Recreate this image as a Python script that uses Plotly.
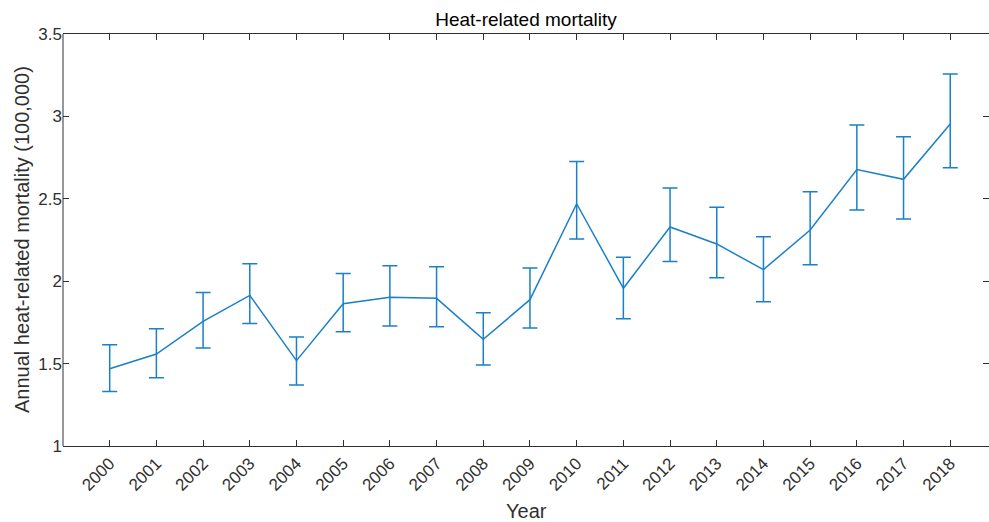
import plotly.graph_objects as go

# values (units of 100,000 deaths)
years = [2000, 2001, 2002, 2003, 2004, 2005, 2006, 2007, 2008, 2009,
         2010, 2011, 2012, 2013, 2014, 2015, 2016, 2017, 2018]
mortality = [1.469, 1.558, 1.756, 1.914, 1.518, 1.863, 1.902, 1.896, 1.647, 1.888,
             2.470, 1.957, 2.329, 2.226, 2.070, 2.311, 2.678, 2.618, 2.954]
upper = [1.615, 1.712, 1.932, 2.106, 1.661, 2.047, 2.094, 2.088, 1.809, 2.080,
         2.727, 2.146, 2.566, 2.448, 2.270, 2.543, 2.948, 2.877, 3.257]
lower = [1.331, 1.414, 1.595, 1.744, 1.370, 1.694, 1.728, 1.724, 1.492, 1.716,
         2.256, 1.772, 2.120, 2.021, 1.876, 2.100, 2.432, 2.377, 2.689]
y_ticks = [1, 1.5, 2, 2.5, 3, 3.5]
y_ticklabels = ['1', '1.5', '2', '2.5', '3', '3.5']

line_color = '#1a80c8'
axis_color = '#303030'
font_family = 'Liberation Sans, Arial, sans-serif'

W, H = 989, 522
m_l, m_r, m_t, m_b = 63, 0, 34, 76
plot_w = W - m_l - m_r
plot_h = H - m_t - m_b

err_plus = [u - m for u, m in zip(upper, mortality)]
err_minus = [m - l for m, l in zip(mortality, lower)]

fig = go.Figure()
fig.add_trace(go.Scatter(
    x=years, y=mortality,
    mode='lines',
    line=dict(color=line_color, width=1.5),
    error_y=dict(type='data', symmetric=False, array=err_plus, arrayminus=err_minus,
                 color=line_color, thickness=1.5, width=7.5),
    showlegend=False,
))

fig.update_layout(
    width=W, height=H,
    plot_bgcolor='white', paper_bgcolor='white',
    margin=dict(l=m_l, r=m_r, t=m_t, b=m_b),
    font=dict(family=font_family, color=axis_color, size=17),
    title=dict(text='Heat-related mortality', x=0.5, xref='paper', xanchor='center',
               y=1 - 19 / H, yref='container', yanchor='middle',
               font=dict(size=19, color='#000000')),
    xaxis=dict(
        range=[1999.0, 2018.83],
        tickvals=years, ticktext=[str(y) for y in years], tickangle=-45,
        ticks='inside', ticklen=6, tickcolor=axis_color, tickwidth=1,
        showline=True, linecolor=axis_color, linewidth=1, mirror='ticks',
        showgrid=False, zeroline=False,
        tickfont=dict(size=17, color=axis_color),
    ),
    # the right edge of the box falls just outside the reference image,
    # so the left y line is drawn as a shape and only the ticks are mirrored
    yaxis=dict(
        range=[1, 3.5],
        tickvals=y_ticks, ticktext=y_ticklabels,
        ticks='inside', ticklen=6, tickcolor=axis_color, tickwidth=1,
        showline=False, mirror='ticks',
        showgrid=False, zeroline=False,
        tickfont=dict(size=17, color=axis_color),
    ),
    shapes=[dict(type='line', xref='paper', yref='paper', x0=0, x1=0, y0=0, y1=1,
                 line=dict(color=axis_color, width=1))],
    annotations=[
        dict(text='Year', x=0.5, xref='paper',
             y=((H - m_b) - 511) / plot_h, yref='paper',
             xanchor='center', yanchor='middle', showarrow=False,
             font=dict(size=20, color=axis_color)),
        dict(text='Annual heat-related mortality (100,000)', textangle=-90,
             x=(22 - m_l) / plot_w, xref='paper', y=0.5, yref='paper',
             xanchor='center', yanchor='middle', showarrow=False,
             font=dict(size=20, color=axis_color)),
    ],
)

# drop the browser's default body margin so the figure sits at the window origin
fig.write_html("out.html", config={'displayModeBar': False},
               post_script="document.body.style.margin='0';")
